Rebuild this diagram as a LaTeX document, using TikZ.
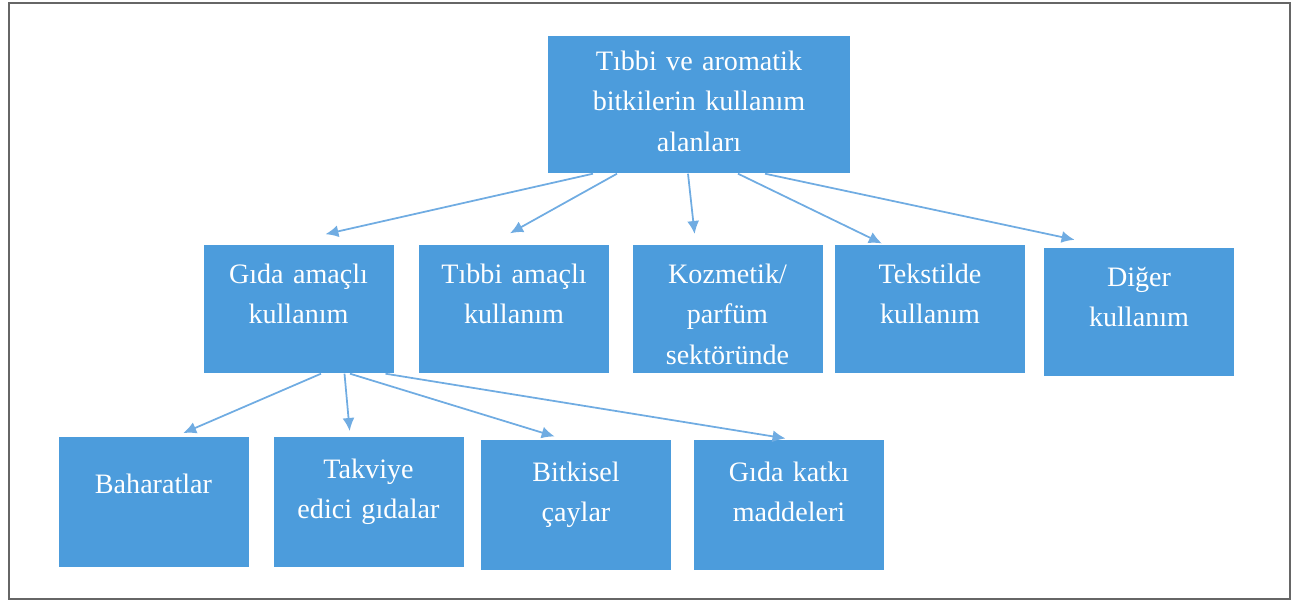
\documentclass[tikz,border=0pt]{standalone}
\usepackage{fontspec}
\setmainfont{Liberation Serif}
\usepackage{xcolor}
\usepackage{tikz}
\usetikzlibrary{arrows.meta}
\definecolor{boxblue}{RGB}{76,156,220}
\definecolor{arrowblue}{RGB}{112,172,226}
\colorlet{framegray}{black!60}

\begin{document}
\begin{tikzpicture}[
MyBoxes/.style={fill=boxblue,text=white,inner sep=0pt,anchor=north,text width=3.8cm,align=center,font=\fontsize{16}{23}\selectfont},
Level0/.style={MyBoxes,text width=6.04cm,text height=0.68cm,text depth=2.06cm},
Level1/.style={MyBoxes,text height=0.76cm,text depth=1.80cm},
Level2/.style={MyBoxes,text height=0.82cm,text depth=1.78cm},
MyArrows/.style={arrowblue,line width=1pt,-{Latex[length=2.6mm, width=2.4mm]},shorten >=2pt}
]
\useasboundingbox (0,0) rectangle (26.16,-12.02);
\draw[framegray,line width=1.6pt] (0.18,-0.06) rectangle (25.8,-11.98);

% ust kutu
\node[Level0] (alan) at (13.98,-0.72) {Tıbbi ve aromatik\\bitkilerin kullanım\\alanları};

% ikinci sira
\node[Level1] (gida) at (5.97,-4.90) {Gıda amaçlı\\kullanım};
\node[Level1] (tibbi) at (10.28,-4.90) {Tıbbi amaçlı\\kullanım};
\node[Level1] (kozmetik) at (14.55,-4.90) {Kozmetik/\\parfüm\\sektöründe};
\node[Level1] (tekstil) at (18.60,-4.90) {Tekstilde\\kullanım};
\node[Level1] (diger) at (22.78,-4.96) {Diğer\\kullanım};

% ucuncu sira
\node[Level2,text height=1.12cm,text depth=1.48cm] (baharat) at (3.07,-8.74) {Baharatlar};
\node[Level2] (takviye) at (7.37,-8.74) {Takviye\\edici gıdalar};
\node[Level2] (bitkisel) at (11.52,-8.80) {Bitkisel\\çaylar};
\node[Level2] (katki) at (15.78,-8.80) {Gıda katkı\\maddeleri};

\draw[MyArrows] ([xshift=-2.12cm]alan.south) -- ([xshift=0.47cm,yshift=0.2cm]gida.north);
\draw[MyArrows] ([xshift=-1.64cm]alan.south) -- ([xshift=-0.14cm,yshift=0.2cm]tibbi.north);
\draw[MyArrows] ([xshift=-0.22cm]alan.south) -- ([xshift=-0.65cm,yshift=0.15cm]kozmetik.north);
\draw[MyArrows] ([xshift=0.78cm]alan.south) -- ([xshift=-0.9cm]tekstil.north);
\draw[MyArrows] ([xshift=1.32cm]alan.south) -- ([xshift=-1.22cm,yshift=0.15cm]diger.north);

\draw[MyArrows] ([xshift=0.45cm]gida.south) -- ([xshift=0.53cm,yshift=0.05cm]baharat.north);
\draw[MyArrows] ([xshift=0.92cm]gida.south) -- ([xshift=-0.37cm,yshift=0.05cm]takviye.north);
\draw[MyArrows] ([xshift=1.03cm]gida.south) -- ([xshift=-0.36cm,yshift=0.05cm]bitkisel.north);
\draw[MyArrows] ([xshift=1.74cm]gida.south) -- ([yshift=0.02cm]katki.north);

\end{tikzpicture}
\end{document}
